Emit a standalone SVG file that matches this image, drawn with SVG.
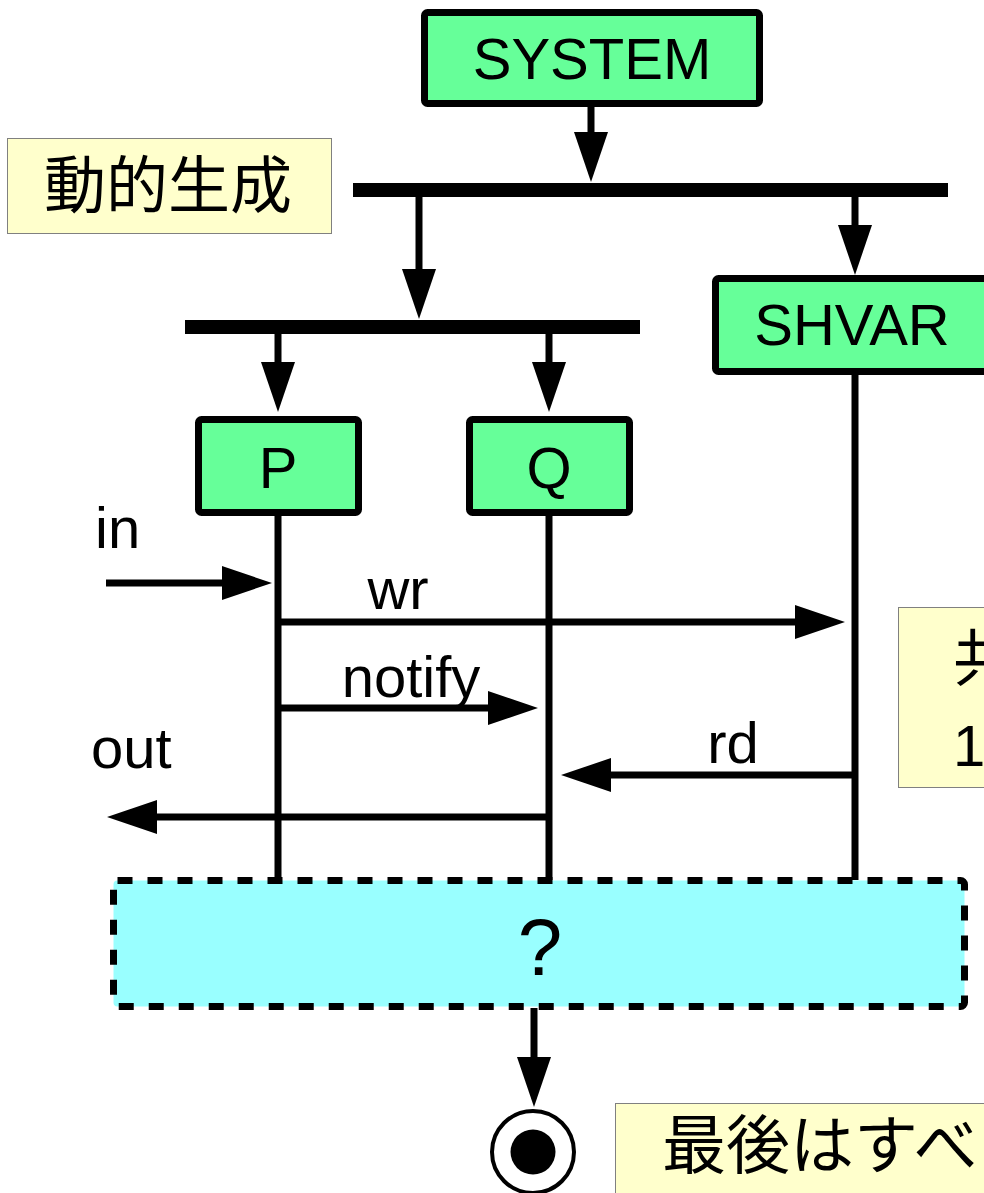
<svg xmlns="http://www.w3.org/2000/svg" width="984" height="1193" viewBox="0 0 984 1193">
<defs>
<marker id="ah" markerUnits="userSpaceOnUse" markerWidth="50" markerHeight="34" refX="0" refY="17" orient="auto" overflow="visible">
<path d="M0,0 L50,17 L0,34 Z" fill="#000"/>
</marker>
<style>
.box{fill:#66ff99;stroke:#000;stroke-width:7;}
.note{fill:#ffffcc;stroke:#808080;stroke-width:1;}
.t{font-family:"Liberation Sans",Arial,sans-serif;font-size:58px;fill:#000;}
.j{font-family:"Noto Sans CJK JP","Noto Sans CJK SC",sans-serif;font-size:62px;fill:#000;}
.ln{stroke:#000;stroke-width:7;fill:none;}
.ar{stroke:#000;stroke-width:7;fill:none;marker-end:url(#ah);}
.bar{fill:#000;}
</style>
</defs>
<rect width="984" height="1193" fill="#fff"/>

<g id="note-dynamic">
<rect class="note" x="7.5" y="138.5" width="324" height="95"/>
<text class="j" x="168" y="208" text-anchor="middle">動的生成</text>
</g>
<g id="note-shared">
<rect class="note" x="898.5" y="607.5" width="100" height="180"/>
<text class="j" x="953" y="681">共</text>
<text class="t" x="953" y="766">1</text>
</g>
<g id="note-final">
<rect class="note" x="615.5" y="1103.5" width="400" height="100"/>
<text class="j" x="662" y="1168" style="font-size:64px">最後はすべ</text>
</g>

<g id="fork1"><rect class="bar" x="353" y="183" width="595" height="14"/></g>
<g id="fork2"><rect class="bar" x="185" y="320" width="455" height="14"/></g>

<g id="connectors">
<line class="ar" x1="591" y1="104" x2="591" y2="132"/>
<line class="ar" x1="419" y1="197" x2="419" y2="269"/>
<line class="ar" x1="855" y1="197" x2="855" y2="225"/>
<line class="ar" x1="278" y1="334" x2="278" y2="362"/>
<line class="ar" x1="549" y1="334" x2="549" y2="362"/>
<line class="ln" x1="278" y1="514" x2="278" y2="880"/>
<line class="ln" x1="549" y1="514" x2="549" y2="880"/>
<line class="ln" x1="855" y1="372" x2="855" y2="880"/>
<line class="ar" x1="106" y1="583" x2="222" y2="583"/>
<line class="ar" x1="278" y1="622" x2="795" y2="622"/>
<line class="ar" x1="278" y1="708" x2="488" y2="708"/>
<line class="ar" x1="855" y1="775" x2="611" y2="775"/>
<line class="ar" x1="549" y1="817" x2="157" y2="817"/>
<line class="ar" x1="534" y1="1008" x2="534" y2="1057"/>
<text class="t" x="95" y="548">in</text>
<text class="t" x="398" y="609" text-anchor="middle">wr</text>
<text class="t" x="411" y="697" text-anchor="middle">notify</text>
<text class="t" x="733" y="763" text-anchor="middle">rd</text>
<text class="t" x="91" y="768">out</text>
</g>

<g id="SYSTEM">
<rect class="box" x="424.5" y="12.5" width="335" height="91" rx="3"/>
<text class="t" x="592" y="79" text-anchor="middle">SYSTEM</text>
</g>
<g id="SHVAR">
<rect class="box" x="715.5" y="278.5" width="280" height="93" rx="3"/>
<text class="t" x="852" y="345" text-anchor="middle">SHVAR</text>
</g>
<g id="P">
<rect class="box" x="198.5" y="419.5" width="160" height="93" rx="3"/>
<text class="t" x="278" y="488" text-anchor="middle">P</text>
</g>
<g id="Q">
<rect class="box" x="469.5" y="419.5" width="160" height="93" rx="3"/>
<text class="t" x="549" y="488" text-anchor="middle">Q</text>
</g>

<g id="unknown">
<rect x="113.5" y="880.5" width="851" height="126" rx="4" fill="#99ffff" stroke="#000" stroke-width="7" stroke-dasharray="15 15"/>
<text class="t" x="540" y="975" style="font-size:80px" text-anchor="middle">?</text>
</g>

<g id="final">
<circle cx="533" cy="1152" r="41" fill="#fff" stroke="#000" stroke-width="4"/>
<circle cx="533" cy="1152" r="22.5" fill="#000"/>
</g>
</svg>
